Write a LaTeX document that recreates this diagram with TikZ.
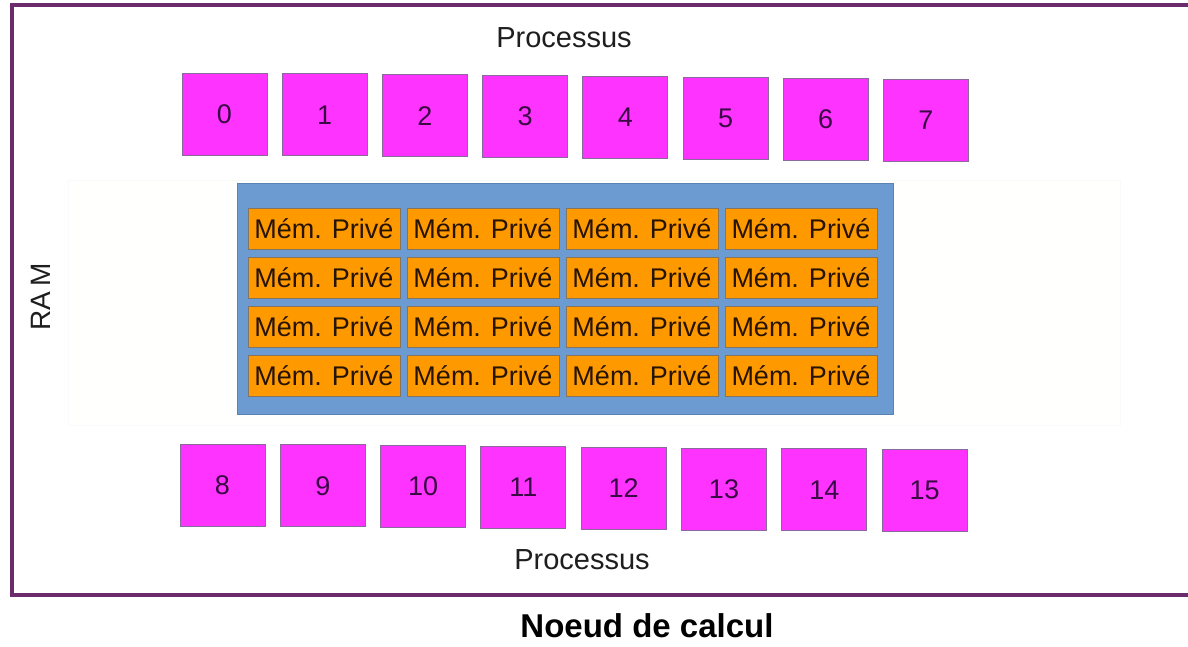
\documentclass[tikz,border=0pt]{standalone}
\usepackage{fontspec}
\setmainfont{Liberation Sans}
\definecolor{framecol}{HTML}{6B2C6E}
\definecolor{procfill}{HTML}{FF33FF}
\definecolor{procdraw}{HTML}{8A6A9A}
\definecolor{numcol}{HTML}{3A0A45}
\definecolor{blufill}{HTML}{6C9BD2}
\definecolor{bludraw}{HTML}{5A82B4}
\definecolor{orfill}{HTML}{FF9900}
\definecolor{ordraw}{HTML}{857560}
\definecolor{txtcol}{HTML}{1E1E1E}
\tikzset{
  proc/.style={draw=procdraw, line width=1pt, fill=procfill, minimum width=85pt, minimum height=82pt, inner sep=0pt, text=numcol, font=\fontsize{27}{30}\selectfont},
  mem/.style={draw=ordraw, line width=1pt, fill=orfill, minimum width=152pt, minimum height=41pt, inner sep=0pt, text=black!85!orange, font=\fontsize{27}{30}\selectfont},
  lbl/.style={text=txtcol, inner sep=0pt, font=\fontsize{29}{32}\selectfont}
}
\begin{document}
\begin{tikzpicture}[x=1pt,y=-1pt]
\useasboundingbox (0,0) rectangle (1188,646);
\fill[white] (0,0) rectangle (1188,646);
% outer frame
\draw[framecol, line width=4pt] (1200,5) -- (12,5) -- (12,595) -- (1200,595);
% faint RAM area
\draw[black!2, fill=yellow!0.5] (68,180) rectangle (1120,425);
% blue memory block
\node[draw=bludraw, line width=1pt, fill=blufill, minimum width=656pt, minimum height=231pt, inner sep=0pt] (ram) at (565,299) {};
% memory cells
\foreach \r in {0,1,2,3} {
  \foreach \c in {0,1,2,3} {
    \node[mem] (m\r\c) at ({324+159*\c},{228.5+49*\r}) {Mém. Privé};
  }
}
% processors top
\foreach \i in {0,...,7} {
  \node[proc] (p\i) at ({224.5+100.2*\i},{114+0.9*\i}) {\i};
}
% processors bottom
\foreach \i [evaluate=\i as \n using int(\i+8)] in {0,...,7} {
  \node[proc] (p\n) at ({222.5+100.3*\i},{485+0.8*\i}) {\n};
}
% labels
\node[lbl] (ptop) at (564,38) {Processus};
\node[lbl] (pbot) at (582,560) {Processus};
\node[lbl, rotate=90, font=\fontsize{28}{32}\selectfont] (ramlbl) at (41,297) {RA\,M};
\node[text=black, inner sep=0pt, font=\fontsize{33}{38}\selectfont\bfseries] (title) at (647,626) {Noeud de calcul};
\end{tikzpicture}
\end{document}
